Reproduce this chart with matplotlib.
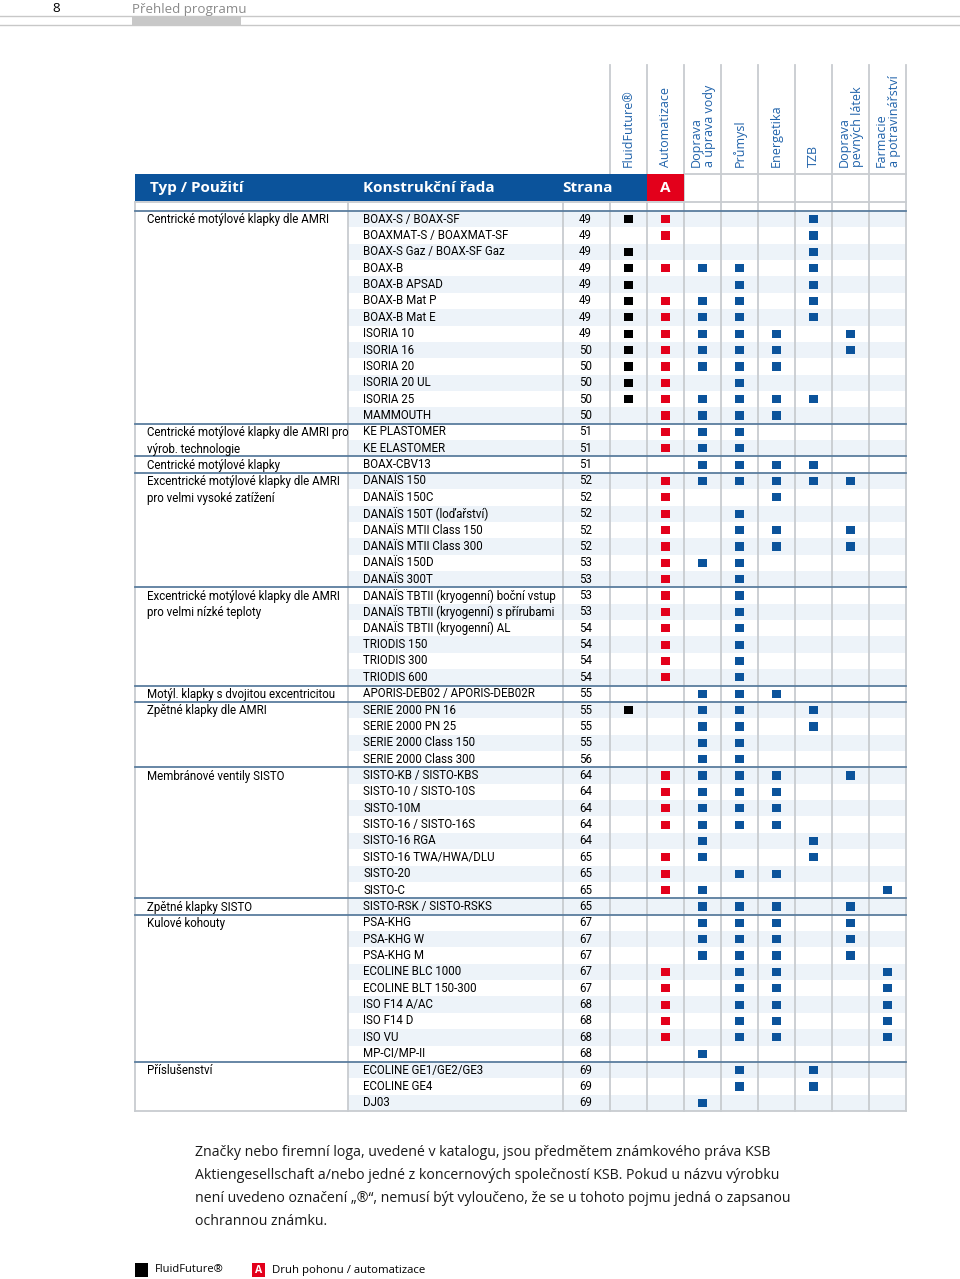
import matplotlib.pyplot as plt
from matplotlib.patches import Rectangle

plt.rcParams["font.family"] = ["Roboto", "DejaVu Sans"]

COLUMN_LABELS = [
    "FluidFuture®", "Automatizace", "Doprava\na úprava vody", "Průmysl",
    "Energetika", "TZB", "Doprava\npevných látek", "Farmacie\na potravinářství",
]

GROUPS = [
    "Centrické motýlové klapky dle AMRI",
    "Centrické motýlové klapky dle AMRI pro\nvýrob. technologie",
    "Centrické motýlové klapky",
    "Excentrické motýlové klapky dle AMRI\npro velmi vysoké zatížení",
    "Excentrické motýlové klapky dle AMRI\npro velmi nízké teploty",
    "Motýl. klapky s dvojitou excentricitou",
    "Zpětné klapky dle AMRI",
    "Membránové ventily SISTO",
    "Zpětné klapky SISTO",
    "Kulové kohouty",
    "Příslušenství",
]
GROUP_SIZES = [13, 2, 1, 7, 6, 1, 4, 8, 1, 9, 3]

PRODUCTS = [
    "BOAX-S / BOAX-SF", "BOAXMAT-S / BOAXMAT-SF", "BOAX-S Gaz / BOAX-SF Gaz",
    "BOAX-B", "BOAX-B APSAD", "BOAX-B Mat P", "BOAX-B Mat E", "ISORIA 10",
    "ISORIA 16", "ISORIA 20", "ISORIA 20 UL", "ISORIA 25", "MAMMOUTH",
    "KE PLASTOMER", "KE ELASTOMER",
    "BOAX-CBV13",
    "DANAÏS 150", "DANAÏS 150C", "DANAÏS 150T (loďařství)", "DANAÏS MTII Class 150",
    "DANAÏS MTII Class 300", "DANAÏS 150D", "DANAÏS 300T",
    "DANAÏS TBTII (kryogenní) boční vstup", "DANAÏS TBTII (kryogenní) s přírubami",
    "DANAÏS TBTII (kryogenní) AL", "TRIODIS 150", "TRIODIS 300", "TRIODIS 600",
    "APORIS-DEB02 / APORIS-DEB02R",
    "SERIE 2000 PN 16", "SERIE 2000 PN 25", "SERIE 2000 Class 150", "SERIE 2000 Class 300",
    "SISTO-KB / SISTO-KBS", "SISTO-10 / SISTO-10S", "SISTO-10M", "SISTO-16 / SISTO-16S",
    "SISTO-16 RGA", "SISTO-16 TWA/HWA/DLU", "SISTO-20", "SISTO-C",
    "SISTO-RSK / SISTO-RSKS",
    "PSA-KHG", "PSA-KHG W", "PSA-KHG M", "ECOLINE BLC 1000", "ECOLINE BLT 150-300",
    "ISO F14 A/AC", "ISO F14 D", "ISO VU", "MP-CI/MP-II",
    "ECOLINE GE1/GE2/GE3", "ECOLINE GE4", "DJ03",
]

PAGES = [
    49, 49, 49, 49, 49, 49, 49, 49, 50, 50, 50, 50, 50,
    51, 51,
    51,
    52, 52, 52, 52, 52, 53, 53,
    53, 53, 54, 54, 54, 54,
    55,
    55, 55, 55, 56,
    64, 64, 64, 64, 64, 65, 65, 65,
    65,
    67, 67, 67, 67, 67, 68, 68, 68, 68,
    69, 69, 69,
]

# column indices that carry a square, one list per product
MARKS = [
    [0, 1, 5], [1, 5], [0, 5], [0, 1, 2, 3, 5], [0, 3, 5], [0, 1, 2, 3, 5],
    [0, 1, 2, 3, 5], [0, 1, 2, 3, 4, 6], [0, 1, 2, 3, 4, 6], [0, 1, 2, 3, 4],
    [0, 1, 3], [0, 1, 2, 3, 4, 5], [1, 2, 3, 4],
    [1, 2, 3], [1, 2, 3],
    [2, 3, 4, 5],
    [1, 2, 3, 4, 5, 6], [1, 4], [1, 3], [1, 3, 4, 6], [1, 3, 4, 6], [1, 2, 3], [1, 3],
    [1, 3], [1, 3], [1, 3], [1, 3], [1, 3], [1, 3],
    [2, 3, 4],
    [0, 2, 3, 5], [2, 3, 5], [2, 3], [2, 3],
    [1, 2, 3, 4, 6], [1, 2, 3, 4], [1, 2, 3, 4], [1, 2, 3, 4], [2, 5], [1, 2, 5],
    [1, 3, 4], [1, 2, 7],
    [2, 3, 4, 6],
    [2, 3, 4, 6], [2, 3, 4, 6], [2, 3, 4, 6], [1, 3, 4, 7], [1, 3, 4, 7],
    [1, 3, 4, 7], [1, 3, 4, 7], [1, 3, 4, 7], [2],
    [3, 5], [3, 5], [2],
]

FOOTER_LINES = [
    "Značky nebo firemní loga, uvedené v katalogu, jsou předmětem známkového práva KSB",
    "Aktiengesellschaft a/nebo jedné z koncernových společností KSB. Pokud u názvu výrobku",
    "není uvedeno označení „®“, nemusí být vyloučeno, že se u tohoto pojmu jedná o zapsanou",
    "ochrannou známku.",
]

BLUE = "#0b539b"
RED = "#e3001b"
LABEL_BLUE = "#1f62aa"
GRID = "#c8ccd0"
GROUP_LINE = "#5a7d9e"
STRIPE = "#edf3f9"
MARK_COLORS = ["black", RED] + [BLUE] * 6
TABLE_FS = 8.3

# page layout in pixels
LEFT, C1, C2, C3, COL_W = 135, 348, 563, 610, 37
RIGHT = C3 + COL_W * len(COLUMN_LABELS)
TOP, BOTTOM = 211, 1111
ROW_H = (BOTTOM - TOP) / len(PRODUCTS)

fig = plt.figure(figsize=(9.6, 12.79), dpi=100)
ax = fig.add_axes([0, 0, 1, 1])
ax.set_xlim(0, 960)
ax.set_ylim(1279, 0)
ax.axis("off")

# page header
ax.axhline(16, color="#c8c8c8", lw=1)
ax.axhline(25, color="#c8c8c8", lw=1)
ax.add_patch(Rectangle((132, 16), 109, 9, color="#c8c8c8", lw=0))
ax.text(56, 9, "8", ha="center", va="center", fontsize=9.6, family="Open Sans")
ax.text(132, 9, "Přehled programu", ha="left", va="center", fontsize=9.6,
        family="Open Sans", color="#8a8a8a")

# row stripes
for i in range(len(PRODUCTS)):
    if i % 2 == 0:
        ax.add_patch(Rectangle((C1, TOP + i * ROW_H), RIGHT - C1, ROW_H,
                               color=STRIPE, lw=0, zorder=0))

# vertical rules
col_edges = [C3 + COL_W * k for k in range(len(COLUMN_LABELS) + 1)]
for x in col_edges:
    ax.plot([x, x], [65, BOTTOM], color=GRID, lw=1.3, zorder=1)
for x in (LEFT, C1, C2):
    ax.plot([x, x], [202, BOTTOM], color=GRID, lw=1.3, zorder=1)

ax.plot([col_edges[2], RIGHT], [174, 174], color=GRID, lw=1.3, zorder=1)
ax.plot([LEFT, RIGHT], [202, 202], color=GRID, lw=1.3, zorder=1)
ax.plot([LEFT, RIGHT], [BOTTOM, BOTTOM], color=GRID, lw=1.3, zorder=1)

# header band
ax.add_patch(Rectangle((LEFT, 174), col_edges[1] - LEFT, 27, color=BLUE, lw=0, zorder=2))
ax.add_patch(Rectangle((col_edges[1], 174), COL_W, 27, color=RED, lw=0, zorder=2))
band_font = dict(color="white", fontsize=11, fontweight="bold", family="Open Sans",
                 va="center", ha="left", zorder=3)
ax.text(150, 188, "Typ / Použití", **band_font)
ax.text(363, 188, "Konstrukční řada", **band_font)
ax.text(562, 188, "Strana", **band_font)
ax.text(col_edges[1] + COL_W / 2, 188, "A", color="white", fontsize=11,
        fontweight="bold", family="Open Sans", ha="center", va="center", zorder=3)

# rotated column labels
for k, label in enumerate(COLUMN_LABELS):
    ax.text(C3 + COL_W * (k + 0.5), 167, label, rotation=90, ha="center", va="bottom",
            fontsize=9, family="Open Sans", color=LABEL_BLUE, linespacing=1.05,
            multialignment="left")

# group labels and separators
start = 0
for name, size in zip(GROUPS, GROUP_SIZES):
    y0 = TOP + start * ROW_H
    ax.plot([LEFT, RIGHT], [y0, y0], color=GROUP_LINE, lw=1.3, zorder=2)
    ax.text(147, y0 + 2.5, name, ha="left", va="top", fontsize=TABLE_FS, linespacing=1.35)
    start += size

# products and pages
for i, (product, page) in enumerate(zip(PRODUCTS, PAGES)):
    yc = TOP + (i + 0.5) * ROW_H
    ax.text(363, yc, product, ha="left", va="center", fontsize=TABLE_FS)
    ax.text(592, yc, str(page), ha="right", va="center", fontsize=TABLE_FS)

# squares
xs, ys, cs = [], [], []
for i, cols in enumerate(MARKS):
    for k in cols:
        xs.append(C3 + COL_W * (k + 0.5))
        ys.append(TOP + (i + 0.5) * ROW_H)
        cs.append(MARK_COLORS[k])
ax.scatter(xs, ys, marker="s", s=34, c=cs, linewidths=0, zorder=4)

# footnote
for j, line in enumerate(FOOTER_LINES):
    ax.text(195, 1152 + j * 23.3, line, ha="left", va="center", fontsize=10.2,
            family="Open Sans", color="#1a1a1a")

# legend
ax.add_patch(Rectangle((135, 1263), 13, 14, color="black", lw=0))
ax.text(155, 1270, "FluidFuture®", ha="left", va="center", fontsize=8, family="Open Sans")
ax.add_patch(Rectangle((252, 1263), 13, 14, color=RED, lw=0))
ax.text(258.5, 1270.5, "A", ha="center", va="center", fontsize=7.5, fontweight="bold",
        color="white", family="Open Sans")
ax.text(272, 1270, "Druh pohonu / automatizace", ha="left", va="center", fontsize=8.2,
        family="Open Sans")

fig.savefig("out.png", dpi=100)
